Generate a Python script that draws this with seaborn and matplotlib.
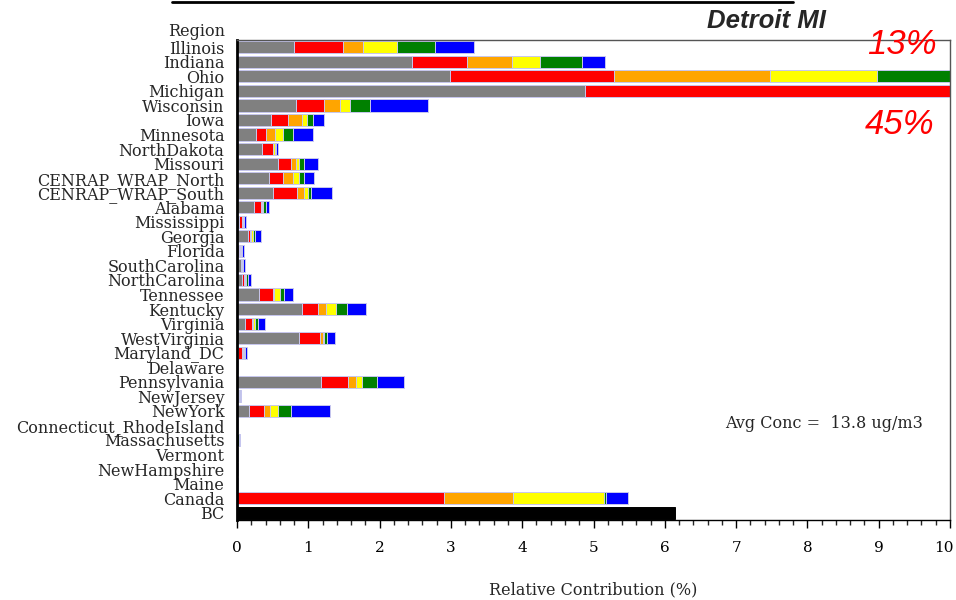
import matplotlib
matplotlib.use("Agg")
import matplotlib.pyplot as plt
import matplotlib.transforms as mtransforms
import seaborn as sns
import pandas as pd
import numpy as np
from matplotlib.lines import Line2D
from matplotlib.ticker import MultipleLocator

regions = ["Illinois", "Indiana", "Ohio", "Michigan", "Wisconsin", "Iowa", "Minnesota",
           "NorthDakota", "Missouri", "CENRAP_WRAP_North", "CENRAP_WRAP_South", "Alabama",
           "Mississippi", "Georgia", "Florida", "SouthCarolina", "NorthCarolina", "Tennessee",
           "Kentucky", "Virginia", "WestVirginia", "Maryland_DC", "Delaware", "Pennsylvania",
           "NewJersey", "NewYork", "Connecticut_RhodeIsland", "Massachusetts", "Vermont",
           "NewHampshire", "Maine", "Canada", "BC"]

gray   = [0.80, 2.45, 2.99, 4.88, 0.825, 0.47, 0.26, 0.35, 0.57, 0.45, 0.50, 0.24, 0.03, 0.16,
          0.03, 0.05, 0.07, 0.31, 0.91, 0.11, 0.87, 0.02, 0.0, 1.18, 0.005, 0.17, 0.0, 0.005,
          0.0, 0.0, 0.0, 0.0, 0.0]
red    = [0.68, 0.77, 2.30, 40.1, 0.39, 0.25, 0.14, 0.15, 0.19, 0.19, 0.34, 0.09, 0.04, 0.02,
          0.015, 0.005, 0.03, 0.19, 0.22, 0.10, 0.29, 0.05, 0.0, 0.38, 0.0, 0.21, 0.0, 0.0,
          0.0, 0.0, 0.0, 2.90, 0.0]
orange = [0.29, 0.63, 2.18, 0.0, 0.23, 0.19, 0.13, 0.01, 0.07, 0.14, 0.10, 0.02, 0.01, 0.02,
          0.005, 0.005, 0.015, 0.02, 0.12, 0.01, 0.04, 0.01, 0.0, 0.11, 0.005, 0.08, 0.0, 0.0,
          0.0, 0.0, 0.0, 0.97, 0.0]
yellow = [0.47, 0.40, 1.50, 0.0, 0.14, 0.07, 0.11, 0.02, 0.04, 0.09, 0.06, 0.02, 0.01, 0.02,
          0.005, 0.01, 0.015, 0.08, 0.14, 0.03, 0.02, 0.015, 0.0, 0.09, 0.02, 0.11, 0.0, 0.0,
          0.0, 0.0, 0.0, 1.28, 0.0]
green  = [0.54, 0.59, 1.90, 0.0, 0.28, 0.09, 0.14, 0.01, 0.07, 0.07, 0.04, 0.03, 0.01, 0.03,
          0.015, 0.015, 0.02, 0.06, 0.15, 0.04, 0.04, 0.015, 0.0, 0.20, 0.01, 0.19, 0.0, 0.025,
          0.0, 0.0, 0.0, 0.02, 0.0]
blue   = [0.54, 0.32, 2.13, 0.0, 0.82, 0.15, 0.28, 0.04, 0.19, 0.14, 0.29, 0.05, 0.03, 0.08,
          0.03, 0.025, 0.04, 0.13, 0.27, 0.10, 0.11, 0.03, 0.02, 0.38, 0.015, 0.55, 0.02, 0.01,
          0.02, 0.02, 0.02, 0.32, 0.0]
bc     = [0.0] * 32 + [6.15]

series_names = ["gray", "red", "orange", "yellow", "green", "blue"]
series_colors = ["#808080", "#ff0000", "#ffa500", "#ffff00", "#008000", "#0000ff"]

df = pd.DataFrame({"region": regions, "gray": gray, "red": red, "orange": orange,
                   "yellow": yellow, "green": green, "blue": blue, "bc": bc})
cum = df[series_names].cumsum(axis=1)
cum["region"] = df["region"]

sns.set_style("ticks")
plt.rcParams["font.family"] = ["DejaVu Serif"]

fig = plt.figure(figsize=(9.56, 6.0), dpi=100)
ax = fig.add_axes([237 / 956, 1 - 520 / 600, 713 / 956, 480 / 600])

edge = "#c8c8ee"
for name, col in reversed(list(zip(series_names, series_colors))):
    sns.barplot(data=cum, x=name, y="region", order=regions, orient="h", color=col,
                width=0.84, edgecolor=edge, linewidth=0.7, saturation=1, ax=ax, errorbar=None)
sns.barplot(data=df, x="bc", y="region", order=regions, orient="h", color="black",
            width=0.84, edgecolor="black", linewidth=0.7, saturation=1, ax=ax, errorbar=None)

ax.set_xlim(0, 10)
ax.set_ylim(len(regions) - 0.5, -0.5)
ax.xaxis.set_major_locator(MultipleLocator(1))
ax.xaxis.set_minor_locator(MultipleLocator(0.2))
ax.tick_params(axis="x", which="major", direction="out", length=6, width=1, labelsize=11, pad=9,
               colors="black")
ax.tick_params(axis="x", which="minor", direction="out", length=3.5, width=1)
ax.tick_params(axis="y", length=0, labelsize=11.5, pad=9)
ax.set_xlabel("Relative Contribution (%)", fontsize=11.5, labelpad=19)
ax.set_ylabel("")

# keep the "10" label inside the figure edge
fig.canvas.draw()
for lbl in ax.get_xticklabels():
    if lbl.get_text() == "10":
        lbl.set_transform(lbl.get_transform() +
                          mtransforms.ScaledTranslation(-6 / 100, 0, fig.dpi_scale_trans))

for s in ["top", "right"]:
    ax.spines[s].set_color("#555555")
    ax.spines[s].set_linewidth(1.0)
ax.spines["left"].set_color("black")
ax.spines["left"].set_linewidth(2.0)
ax.spines["bottom"].set_color("black")
ax.spines["bottom"].set_linewidth(1.0)

ax.text(-12 / 713, 1 + 9 / 480, "Region", transform=ax.transAxes, ha="right", va="center",
        fontsize=11.5)

ax.text((725 - 237) / 713, 1 - (423 - 40) / 480, "Avg Conc =  13.8 ug/m3",
        transform=ax.transAxes, ha="left", va="center", fontsize=11.5)

fig.text(766 / 956, 1 - 21 / 600, "Detroit MI", ha="center", va="center", fontsize=18.5,
         family="Liberation Sans", weight="bold", style="italic")
fig.text(902 / 956, 1 - 44 / 600, "13%", ha="center", va="center", fontsize=25,
         family="Liberation Sans", style="italic", color="red")
fig.text(900 / 956, 1 - 125 / 600, "45%", ha="center", va="center", fontsize=25,
         family="Liberation Sans", style="italic", color="red")

fig.add_artist(Line2D([172 / 956, 793 / 956], [1 - 1.5 / 600, 1 - 1.5 / 600],
                      color="black", linewidth=2, transform=fig.transFigure))

fig.savefig("out.png", dpi=100, facecolor="white")
